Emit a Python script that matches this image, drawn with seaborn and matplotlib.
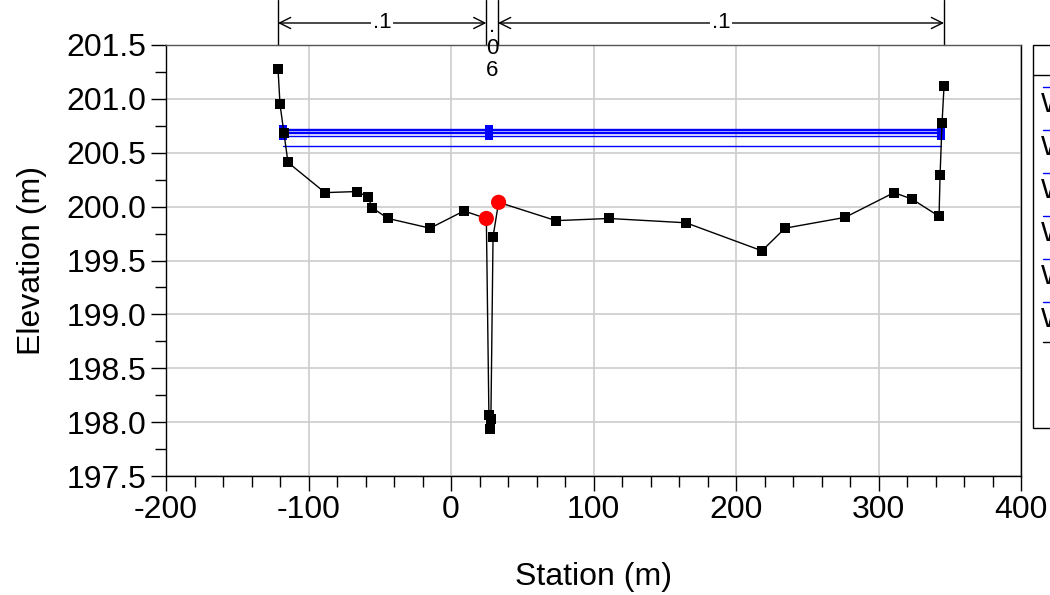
import numpy as np
import pandas as pd
import matplotlib
matplotlib.use("Agg")
import matplotlib.pyplot as plt
import seaborn as sns
from matplotlib.lines import Line2D
from matplotlib.patches import Rectangle

# ---------------- data ----------------
ground_x = [-121.4, -120.0, -117.2, -114.4, -88.4, -66.0, -58.2, -55.4, -44.2, -14.7,
            9.1, 24.8, 26.6, 27.3, 28.0, 29.5, 33.4, 73.7, 110.9, 164.9,
            218.2, 234.4, 276.5, 310.9, 323.5, 342.5, 343.2, 344.6, 346.0]
ground_y = [201.28, 200.95, 200.68, 200.41, 200.13, 200.14, 200.09, 199.99, 199.89, 199.80,
            199.96, 199.89, 198.07, 197.94, 198.03, 199.72, 200.04, 199.87, 199.89, 199.85,
            199.59, 199.80, 199.90, 200.13, 200.07, 199.91, 200.29, 200.78, 201.12]

bank_x = [24.8, 33.4]
bank_y = [199.89, 200.04]

ws_names = ["WS PF 1", "WS PF 2", "WS PF 3", "WS PF 4", "WS PF 5", "WS PF 6"]
ws_elev = [200.72, 200.71, 200.69, 200.68, 200.66, 200.56]
ws_left = -117.8
ws_mid = 27.0
ws_right = 343.9

n_values = [".1", ".06", ".1"]
n_breaks = [-121.4, 24.8, 33.0, 346.0]

x_ticks = [-200, -100, 0, 100, 200, 300, 400]
y_ticks = [197.5, 198.0, 198.5, 199.0, 199.5, 200.0, 200.5, 201.0, 201.5]

# ---------------- style ----------------
sns.set_style("white")
plt.rcParams['font.family'] = ['Liberation Sans', 'DejaVu Sans']
plt.rcParams['text.color'] = 'black'
plt.rcParams['axes.labelcolor'] = 'black'
plt.rcParams['xtick.color'] = 'black'
plt.rcParams['ytick.color'] = 'black'

fig = plt.figure(figsize=(10.5, 5.95), dpi=100)
ax = fig.add_axes([166/1050, 1-476/595, (1021-166)/1050, (476-45)/595])

# water surface lines
rows = []
for name, el in zip(ws_names, ws_elev):
    for xx in (ws_left, ws_mid, ws_right):
        rows.append({"profile": name, "x": xx, "y": el})
ws_df = pd.DataFrame(rows)
sns.lineplot(data=ws_df[ws_df.profile != ws_names[-1]], x="x", y="y", hue="profile",
             palette=["#0000ff"] * 5, sort=False, estimator=None, legend=False,
             marker="s", markersize=6, markeredgewidth=0, linewidth=1.0, ax=ax, zorder=3)
sns.lineplot(data=ws_df[ws_df.profile == ws_names[-1]], x="x", y="y",
             color="#0000ff", sort=False, estimator=None, legend=False,
             linewidth=1.0, ax=ax, zorder=3)

# ground
gdf = pd.DataFrame({"x": ground_x, "y": ground_y})
sns.lineplot(data=gdf, x="x", y="y", color="black", sort=False, estimator=None,
             marker="s", markersize=6.8, markeredgewidth=0, linewidth=1.0, ax=ax, zorder=4)
# bank stations
sns.scatterplot(x=bank_x, y=bank_y, color="#ff0000", s=120, edgecolor="none", ax=ax, zorder=5)

ax.set_xlim(-200, 400)
ax.set_ylim(197.5, 201.5)
ax.set_xticks(x_ticks)
ax.set_xticklabels([str(t) for t in x_ticks])
ax.set_yticks(y_ticks)
ax.set_yticklabels([f"{t:.1f}" for t in y_ticks])
ax.set_xticks(np.arange(-200, 401, 20), minor=True)
ax.set_yticks(np.arange(197.5, 201.51, 0.25), minor=True)
ax.grid(True, which="major", color="#cccccc", linewidth=1.2)
ax.set_axisbelow(True)
ax.tick_params(axis="both", which="major", direction="out", length=11, width=1,
               labelsize=23, color="black", labelcolor="black", bottom=True, left=True, pad=3)
ax.tick_params(axis="both", which="minor", direction="out", length=8, width=1,
               color="black", bottom=True, left=True)
for sp in ax.spines.values():
    sp.set_color("black")
    sp.set_linewidth(1.0)
ax.spines["top"].set_color("#555555")
ax.set_xlabel("Station (m)", fontsize=23, labelpad=26, color="black")
ax.set_ylabel("Elevation (m)", fontsize=23, labelpad=14, color="black")

# Manning's n annotation above the plot
trans = ax.get_xaxis_transform()
for xb in n_breaks:
    ax.plot([xb, xb], [1.0, 1.105], transform=trans, color="black", lw=1.0, clip_on=False)
y_arrow = 1.0 + 22/431
for i, (a, b) in enumerate(zip(n_breaks[:-1], n_breaks[1:])):
    if i == 1:
        ax.text((a + b) / 2, 1.0 + 29/431, ".\n0\n6", transform=trans, ha="center",
                va="top", fontsize=16, linespacing=1.05, clip_on=False)
        continue
    ax.annotate("", xy=(a, y_arrow), xytext=(b, y_arrow), xycoords=trans, textcoords=trans,
                arrowprops=dict(arrowstyle="<->", color="black", lw=1.0,
                                shrinkA=0, shrinkB=0, mutation_scale=20), annotation_clip=False)
    ax.text((a + b) / 2, y_arrow, n_values[i], transform=trans, ha="center", va="center",
            fontsize=16, bbox=dict(facecolor="white", edgecolor="none", pad=1.5), clip_on=False)

# clipped legend on the right
lx0 = 1033/1050
ltop = 1 - 45/595
lbot = 1 - 428/595
fig.add_artist(Rectangle((lx0, lbot), 0.1, ltop - lbot, transform=fig.transFigure,
                         facecolor="white", edgecolor="black", lw=1.0))
fig.add_artist(Line2D([lx0, 1.0], [1 - 75/595] * 2, transform=fig.transFigure, color="black", lw=1.0))
for i, name in enumerate(ws_names):
    yl = 87 + 43 * i
    fig.add_artist(Line2D([1043/1050, 1053/1050], [1 - yl/595] * 2, transform=fig.transFigure,
                          color="#0000ff", lw=1.0))
    fig.text(1041/1050, 1 - (yl + 18)/595, name, fontsize=20, va="center", ha="left")
fig.add_artist(Line2D([1043/1050, 1053/1050], [1 - 342/595] * 2, transform=fig.transFigure,
                      color="black", lw=1.0))

fig.savefig("out.png", dpi=100)
